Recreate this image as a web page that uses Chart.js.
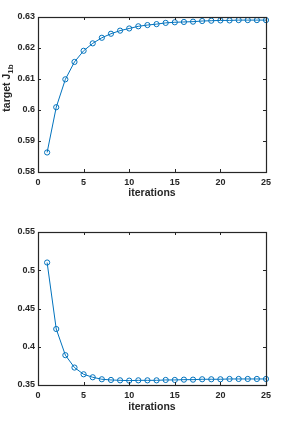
<!DOCTYPE html>
<html>
<head>
<meta charset="utf-8">
<title>Iterations</title>
<script src="https://cdn.jsdelivr.net/npm/chart.js@4/dist/chart.umd.min.js"></script>
<style>
    html, body { margin: 0; padding: 0; background: #ffffff; }
    canvas { display: block; }
</style>
</head>
<body>
<canvas id="topChart" width="294" height="210"></canvas>
<canvas id="bottomChart" width="294" height="217"></canvas>
<script>
// Data
const iterations = [1, 2, 3, 4, 5, 6, 7, 8, 9, 10, 11, 12, 13, 14, 15, 16, 17, 18, 19, 20, 21, 22, 23, 24, 25];
const targetJ1b = [0.5863, 0.6009, 0.6099, 0.6155, 0.6191, 0.6215, 0.6233, 0.6246, 0.6256, 0.6263,
                   0.6270, 0.6274, 0.6277, 0.6281, 0.6283, 0.6284, 0.6285, 0.6287, 0.6288, 0.6289,
                   0.6289, 0.6290, 0.6290, 0.6290, 0.6290];
const costJ2 = [0.5101, 0.4232, 0.3890, 0.3728, 0.3640, 0.3601, 0.3575, 0.3566, 0.3561, 0.3557,
                0.3561, 0.3561, 0.3561, 0.3566, 0.3566, 0.3570, 0.3570, 0.3575, 0.3575, 0.3575,
                0.3579, 0.3579, 0.3579, 0.3579, 0.3579];

const xTicks = [0, 5, 10, 15, 20, 25];
const topYTicks = [0.58, 0.59, 0.6, 0.61, 0.62, 0.63];
const bottomYTicks = [0.35, 0.4, 0.45, 0.5, 0.55];

const LINE_COLOR = '#0072BD';
const AXIS_COLOR = '#262626';
const FONT = 'Arial, "Liberation Sans", Helvetica, sans-serif';
const TITLE_FONT = 'bold 10.5px ' + FONT;
const SUB_FONT = 'bold 8px ' + FONT;

/**
 * MATLAB-like box: frame, inward ticks on all four sides, axis titles
 */
const matlabAxes = {
    id: 'matlabAxes',
    afterDraw(chart, args, opts) {
        const ctx = chart.ctx;
        const a = chart.chartArea;
        const xs = chart.scales.x;
        const ys = chart.scales.y;
        const tl = 3;

        ctx.save();
        ctx.strokeStyle = AXIS_COLOR;
        ctx.lineWidth = 1;
        ctx.beginPath();
        xs.ticks.forEach(t => {
            const px = Math.round(xs.getPixelForValue(t.value)) + 0.5;
            ctx.moveTo(px, a.bottom); ctx.lineTo(px, a.bottom - tl);
            ctx.moveTo(px, a.top); ctx.lineTo(px, a.top + tl);
        });
        ys.ticks.forEach(t => {
            const py = Math.round(ys.getPixelForValue(t.value)) + 0.5;
            ctx.moveTo(a.left, py); ctx.lineTo(a.left + tl, py);
            ctx.moveTo(a.right, py); ctx.lineTo(a.right - tl, py);
        });
        ctx.stroke();
        ctx.lineWidth = 1.2;
        ctx.strokeRect(Math.round(a.left) + 0.5, Math.round(a.top) + 0.5,
                       Math.round(a.right - a.left), Math.round(a.bottom - a.top));

        // x title
        ctx.fillStyle = AXIS_COLOR;
        ctx.font = TITLE_FONT;
        ctx.textAlign = 'center';
        ctx.textBaseline = 'middle';
        ctx.fillText(opts.xTitle, (a.left + a.right) / 2, opts.xTitleY);

        // y title with subscript, rotated
        ctx.translate(opts.yTitleX, opts.yTitleY);
        ctx.rotate(-Math.PI / 2);
        ctx.textAlign = 'left';
        ctx.textBaseline = 'alphabetic';
        ctx.font = TITLE_FONT;
        const w1 = ctx.measureText(opts.yTitle).width;
        ctx.font = SUB_FONT;
        const w2 = ctx.measureText(opts.ySub).width;
        const start = -(w1 + w2) / 2;
        ctx.font = TITLE_FONT;
        ctx.fillText(opts.yTitle, start, 0);
        ctx.font = SUB_FONT;
        ctx.fillText(opts.ySub, start + w1, 3);
        ctx.restore();
    }
};

function tickLabel(value) {
    return String(Math.round(value * 1000) / 1000);
}

function makeChart(canvasId, values, yTicks, layout, titles) {
    const ctx = document.getElementById(canvasId);
    return new Chart(ctx, {
        type: 'scatter',
        data: {
            datasets: [{
                data: iterations.map((it, i) => ({ x: it, y: values[i] })),
                showLine: true,
                borderColor: LINE_COLOR,
                borderWidth: 1,
                pointStyle: 'circle',
                pointRadius: 2.6,
                pointBorderWidth: 1,
                pointBorderColor: LINE_COLOR,
                pointBackgroundColor: 'rgba(0,0,0,0)',
                clip: false
            }]
        },
        options: {
            responsive: false,
            animation: false,
            events: [],
            layout: {
                padding: { left: 0, top: layout.top, right: layout.right, bottom: 0 }
            },
            plugins: {
                legend: { display: false },
                tooltip: { enabled: false },
                matlabAxes: titles
            },
            scales: {
                x: {
                    type: 'linear',
                    min: xTicks[0],
                    max: xTicks[xTicks.length - 1],
                    grid: { display: false, drawTicks: false },
                    border: { display: false },
                    afterBuildTicks: s => { s.ticks = xTicks.map(v => ({ value: v })); },
                    afterFit: s => { s.height = layout.xHeight; },
                    ticks: {
                        padding: 5,
                        maxRotation: 0,
                        color: AXIS_COLOR,
                        font: { family: FONT, size: 9, weight: 'bold' },
                        callback: v => String(v)
                    }
                },
                y: {
                    type: 'linear',
                    min: yTicks[0],
                    max: yTicks[yTicks.length - 1],
                    grid: { display: false, drawTicks: false },
                    border: { display: false },
                    afterBuildTicks: s => { s.ticks = yTicks.map(v => ({ value: v })); },
                    afterFit: s => { s.width = layout.yWidth; },
                    ticks: {
                        padding: 3,
                        color: AXIS_COLOR,
                        font: { family: FONT, size: 9, weight: 'bold' },
                        callback: v => tickLabel(v)
                    }
                }
            }
        },
        plugins: [matlabAxes]
    });
}

makeChart('topChart', targetJ1b, topYTicks,
    { top: 17, right: 28, yWidth: 38, xHeight: 38 },
    { xTitle: 'iterations', xTitleY: 193.5, yTitle: 'target J', ySub: '1b', yTitleX: 10, yTitleY: 88 });

makeChart('bottomChart', costJ2, bottomYTicks,
    { top: 22, right: 28, yWidth: 38, xHeight: 42 },
    { xTitle: 'iterations', xTitleY: 197, yTitle: 'cost J', ySub: '2', yTitleX: 10, yTitleY: 305 });
</script>
</body>
</html>
